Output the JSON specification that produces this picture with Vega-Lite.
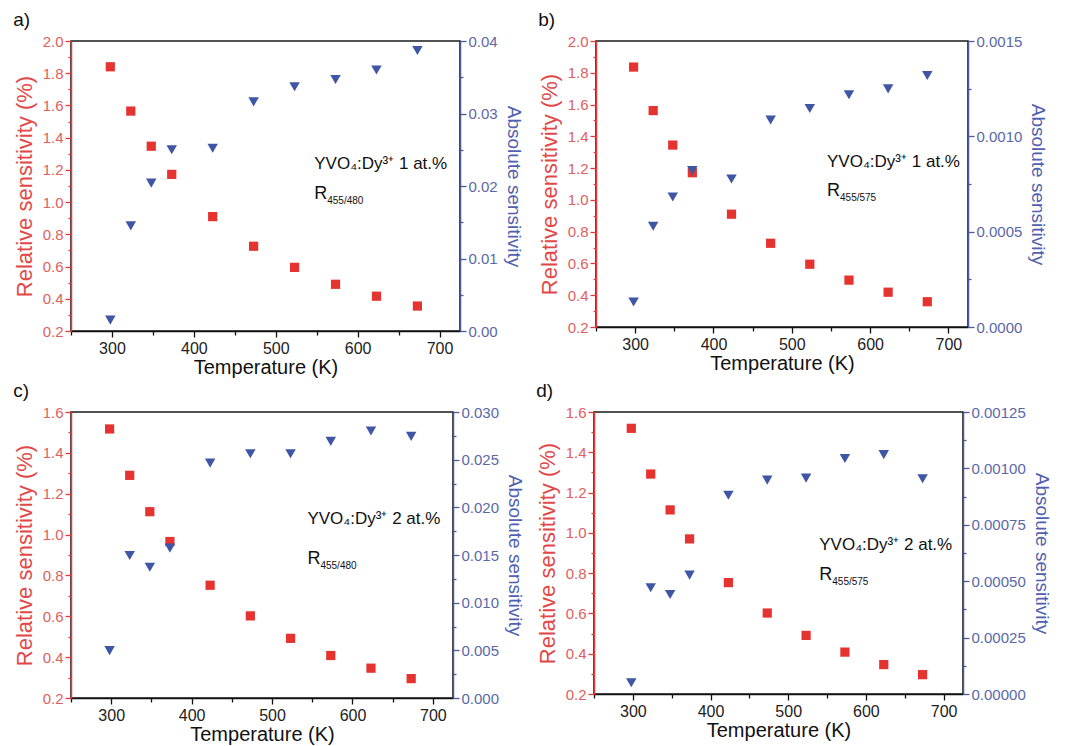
{
  "$schema": "https://vega.github.io/schema/vega-lite/v6.json",
  "padding": {"left": 12, "top": 10, "right": 2, "bottom": 2},
  "datasets": {
    "pts": [
      {"panel": "a", "T": 298, "rel": 1.84, "abs": 0.0015},
      {"panel": "a", "T": 323, "rel": 1.565, "abs": 0.0145},
      {"panel": "a", "T": 348, "rel": 1.347, "abs": 0.0204},
      {"panel": "a", "T": 373, "rel": 1.172, "abs": 0.025},
      {"panel": "a", "T": 423, "rel": 0.91, "abs": 0.0252},
      {"panel": "a", "T": 473, "rel": 0.726, "abs": 0.0316},
      {"panel": "a", "T": 523, "rel": 0.595, "abs": 0.0337},
      {"panel": "a", "T": 573, "rel": 0.49, "abs": 0.0347},
      {"panel": "a", "T": 623, "rel": 0.416, "abs": 0.036},
      {"panel": "a", "T": 673, "rel": 0.355, "abs": 0.0387},
      {"panel": "b", "T": 298, "rel": 1.836, "abs": 0.000131},
      {"panel": "b", "T": 323, "rel": 1.562, "abs": 0.000528},
      {"panel": "b", "T": 348, "rel": 1.345, "abs": 0.000682},
      {"panel": "b", "T": 373, "rel": 1.171, "abs": 0.00082},
      {"panel": "b", "T": 423, "rel": 0.91, "abs": 0.000776},
      {"panel": "b", "T": 473, "rel": 0.727, "abs": 0.001086},
      {"panel": "b", "T": 523, "rel": 0.595, "abs": 0.001146},
      {"panel": "b", "T": 573, "rel": 0.495, "abs": 0.001218},
      {"panel": "b", "T": 623, "rel": 0.419, "abs": 0.001249},
      {"panel": "b", "T": 673, "rel": 0.359, "abs": 0.001319},
      {"panel": "c", "T": 298, "rel": 1.517, "abs": 0.00497},
      {"panel": "c", "T": 323, "rel": 1.29, "abs": 0.01495},
      {"panel": "c", "T": 348, "rel": 1.112, "abs": 0.01372},
      {"panel": "c", "T": 373, "rel": 0.966, "abs": 0.01572},
      {"panel": "c", "T": 423, "rel": 0.752, "abs": 0.02464},
      {"panel": "c", "T": 473, "rel": 0.602, "abs": 0.02562},
      {"panel": "c", "T": 523, "rel": 0.492, "abs": 0.02562},
      {"panel": "c", "T": 573, "rel": 0.408, "abs": 0.02692},
      {"panel": "c", "T": 623, "rel": 0.346, "abs": 0.028},
      {"panel": "c", "T": 673, "rel": 0.295, "abs": 0.02744},
      {"panel": "d", "T": 298, "rel": 1.519, "abs": 0.0000495},
      {"panel": "d", "T": 323, "rel": 1.292, "abs": 0.000471},
      {"panel": "d", "T": 348, "rel": 1.114, "abs": 0.000441},
      {"panel": "d", "T": 373, "rel": 0.97, "abs": 0.000527},
      {"panel": "d", "T": 423, "rel": 0.753, "abs": 0.000881},
      {"panel": "d", "T": 473, "rel": 0.602, "abs": 0.000948},
      {"panel": "d", "T": 523, "rel": 0.491, "abs": 0.000957},
      {"panel": "d", "T": 573, "rel": 0.408, "abs": 0.001044},
      {"panel": "d", "T": 623, "rel": 0.346, "abs": 0.001061},
      {"panel": "d", "T": 673, "rel": 0.296, "abs": 0.000954}
    ],
    "ann": [
      {"panel": "a", "conc": "YVO₄:Dy³⁺ 1 at.%", "ratio": "455/480"},
      {"panel": "b", "conc": "YVO₄:Dy³⁺ 1 at.%", "ratio": "455/575"},
      {"panel": "c", "conc": "YVO₄:Dy³⁺ 2 at.%", "ratio": "455/480"},
      {"panel": "d", "conc": "YVO₄:Dy³⁺ 2 at.%", "ratio": "455/575"}
    ]
  },
  "data": {"name": "pts"},
  "vconcat": [
    {
      "hconcat": [
        {
          "width": 389, "height": 290,
          "title": {"text": "a)"},
          "layer": [
            {"layer": [
              {"transform": [{"filter": "datum.panel === 'a'"}],
               "mark": {"type": "square", "size": 85, "color": "#e5332f", "opacity": 1},
               "encoding": {
                 "x": {"field": "T", "type": "quantitative", "scale": {"domain": [250, 725], "nice": false, "zero": false},
                   "axis": {"title": "Temperature (K)", "values": [250, 300, 350, 400, 450, 500, 550, 600, 650, 700], "tickCount": 100,
                     "labelExpr": "datum.value % 100 === 0 ? datum.label : ''",
                     "tickSize": {"condition": {"test": "datum.value % 100 === 0", "value": 6}, "value": 4},
                     "domainColor": "#111", "tickColor": "#111", "labelColor": "#222", "titleColor": "#111",
                     "labelFontSize": 16, "titleFontSize": 20, "titlePadding": 1, "labelPadding": 3, "labelFlush": false, "labelOverlap": false}},
                 "y": {"field": "rel", "type": "quantitative", "scale": {"domain": [0.2, 2.0], "nice": false, "zero": false},
                   "axis": {"orient": "left", "title": "Relative sensitivity (%)", "tickCount": 100,
                     "values": [0.2, 0.3, 0.4, 0.5, 0.6, 0.7, 0.8, 0.9, 1.0, 1.1, 1.2, 1.3, 1.4, 1.5, 1.6, 1.7, 1.8, 1.9, 2.0],
                     "labelExpr": "round(datum.value*10) % 2 === 0 ? format(datum.value, '.1f') : ''",
                     "tickSize": {"condition": {"test": "round(datum.value*10) % 2 === 0", "value": 6}, "value": 3},
                     "domainColor": "#e23b3b", "tickColor": "#e23b3b", "labelColor": "#e06060", "titleColor": "#e24848",
                     "titleFontSize": 22, "titlePadding": 6, "labelFlush": false, "labelOverlap": false}}
               }},
              {"data": {"name": "ann"}, "transform": [{"filter": "datum.panel === 'a'"}],
               "mark": {"type": "text", "align": "left", "baseline": "middle", "fontSize": 17, "color": "#111"},
               "encoding": {"x": {"datum": 547, "type": "quantitative"}, "y": {"datum": 1.235, "type": "quantitative"}, "text": {"field": "conc"}}},
              {"data": {"name": "ann"}, "transform": [{"filter": "datum.panel === 'a'"}],
               "mark": {"type": "text", "align": "left", "baseline": "middle", "fontSize": 18, "color": "#111", "text": "R"},
               "encoding": {"x": {"datum": 547, "type": "quantitative"}, "y": {"datum": 1.05, "type": "quantitative"}}},
              {"data": {"name": "ann"}, "transform": [{"filter": "datum.panel === 'a'"}],
               "mark": {"type": "text", "align": "left", "baseline": "middle", "fontSize": 10, "color": "#111", "dx": 13, "dy": 7},
               "encoding": {"x": {"datum": 547, "type": "quantitative"}, "y": {"datum": 1.05, "type": "quantitative"}, "text": {"field": "ratio"}}}
            ]},
            {"transform": [{"filter": "datum.panel === 'a'"}],
             "mark": {"type": "point", "shape": "triangle-down", "filled": true, "size": 110, "color": "#3f56a5", "opacity": 1},
             "encoding": {
               "x": {"field": "T", "type": "quantitative"},
               "y": {"field": "abs", "type": "quantitative", "scale": {"domain": [0, 0.04], "nice": false, "zero": false},
                 "axis": {"orient": "right", "title": "Absolute sensitivity", "tickCount": 100,
                   "values": [0, 0.005, 0.01, 0.015, 0.02, 0.025, 0.03, 0.035, 0.04],
                   "labelExpr": "round(datum.value*1000) % 10 === 0 ? format(datum.value, '.2f') : ''",
                   "tickSize": {"condition": {"test": "round(datum.value*1000) % 10 === 0", "value": 6}, "value": 3},
                   "domainColor": "#4a5a9c", "tickColor": "#4a5a9c", "labelColor": "#5a68a8", "titleColor": "#5060b0",
                   "titleFontSize": 19, "titlePadding": 6, "labelFlush": false, "labelOverlap": false}}
             }}
          ],
          "resolve": {"scale": {"y": "independent"}}
        },
        {
          "width": 372, "height": 286,
          "title": {"text": "b)"},
          "layer": [
            {"layer": [
              {"transform": [{"filter": "datum.panel === 'b'"}],
               "mark": {"type": "square", "size": 85, "color": "#e5332f", "opacity": 1},
               "encoding": {
                 "x": {"field": "T", "type": "quantitative", "scale": {"domain": [250, 725], "nice": false, "zero": false},
                   "axis": {"title": "Temperature (K)", "values": [250, 300, 350, 400, 450, 500, 550, 600, 650, 700], "tickCount": 100,
                     "labelExpr": "datum.value % 100 === 0 ? datum.label : ''",
                     "tickSize": {"condition": {"test": "datum.value % 100 === 0", "value": 6}, "value": 4},
                     "domainColor": "#111", "tickColor": "#111", "labelColor": "#222", "titleColor": "#111",
                     "labelFontSize": 16, "titleFontSize": 20, "titlePadding": 1, "labelPadding": 3, "labelFlush": false, "labelOverlap": false}},
                 "y": {"field": "rel", "type": "quantitative", "scale": {"domain": [0.2, 2.0], "nice": false, "zero": false},
                   "axis": {"orient": "left", "title": "Relative sensitivity (%)", "tickCount": 100,
                     "values": [0.2, 0.3, 0.4, 0.5, 0.6, 0.7, 0.8, 0.9, 1.0, 1.1, 1.2, 1.3, 1.4, 1.5, 1.6, 1.7, 1.8, 1.9, 2.0],
                     "labelExpr": "round(datum.value*10) % 2 === 0 ? format(datum.value, '.1f') : ''",
                     "tickSize": {"condition": {"test": "round(datum.value*10) % 2 === 0", "value": 6}, "value": 3},
                     "domainColor": "#e23b3b", "tickColor": "#e23b3b", "labelColor": "#e06060", "titleColor": "#e24848",
                     "titleFontSize": 22, "titlePadding": 6, "labelFlush": false, "labelOverlap": false}}
               }},
              {"data": {"name": "ann"}, "transform": [{"filter": "datum.panel === 'b'"}],
               "mark": {"type": "text", "align": "left", "baseline": "middle", "fontSize": 17, "color": "#111"},
               "encoding": {"x": {"datum": 545, "type": "quantitative"}, "y": {"datum": 1.24, "type": "quantitative"}, "text": {"field": "conc"}}},
              {"data": {"name": "ann"}, "transform": [{"filter": "datum.panel === 'b'"}],
               "mark": {"type": "text", "align": "left", "baseline": "middle", "fontSize": 18, "color": "#111", "text": "R"},
               "encoding": {"x": {"datum": 545, "type": "quantitative"}, "y": {"datum": 1.055, "type": "quantitative"}}},
              {"data": {"name": "ann"}, "transform": [{"filter": "datum.panel === 'b'"}],
               "mark": {"type": "text", "align": "left", "baseline": "middle", "fontSize": 10, "color": "#111", "dx": 13, "dy": 7},
               "encoding": {"x": {"datum": 545, "type": "quantitative"}, "y": {"datum": 1.055, "type": "quantitative"}, "text": {"field": "ratio"}}}
            ]},
            {"transform": [{"filter": "datum.panel === 'b'"}],
             "mark": {"type": "point", "shape": "triangle-down", "filled": true, "size": 110, "color": "#3f56a5", "opacity": 1},
             "encoding": {
               "x": {"field": "T", "type": "quantitative"},
               "y": {"field": "abs", "type": "quantitative", "scale": {"domain": [0, 0.0015], "nice": false, "zero": false},
                 "axis": {"orient": "right", "title": "Absolute sensitivity", "tickCount": 100,
                   "values": [0, 0.00025, 0.0005, 0.00075, 0.001, 0.00125, 0.0015],
                   "labelExpr": "round(datum.value*100000) % 50 === 0 ? format(datum.value, '.4f') : ''",
                   "tickSize": {"condition": {"test": "round(datum.value*100000) % 50 === 0", "value": 6}, "value": 3},
                   "domainColor": "#4a5a9c", "tickColor": "#4a5a9c", "labelColor": "#5a68a8", "titleColor": "#5060b0",
                   "titleFontSize": 19, "titlePadding": 6, "labelFlush": false, "labelOverlap": false}}
             }}
          ],
          "resolve": {"scale": {"y": "independent"}}
        }
      ],
      "spacing": 14
    },
    {
      "hconcat": [
        {
          "width": 382, "height": 286,
          "title": {"text": "c)"},
          "layer": [
            {"layer": [
              {"transform": [{"filter": "datum.panel === 'c'"}],
               "mark": {"type": "square", "size": 85, "color": "#e5332f", "opacity": 1},
               "encoding": {
                 "x": {"field": "T", "type": "quantitative", "scale": {"domain": [250, 725], "nice": false, "zero": false},
                   "axis": {"title": "Temperature (K)", "values": [250, 300, 350, 400, 450, 500, 550, 600, 650, 700], "tickCount": 100,
                     "labelExpr": "datum.value % 100 === 0 ? datum.label : ''",
                     "tickSize": {"condition": {"test": "datum.value % 100 === 0", "value": 6}, "value": 4},
                     "domainColor": "#111", "tickColor": "#111", "labelColor": "#222", "titleColor": "#111",
                     "labelFontSize": 16, "titleFontSize": 20, "titlePadding": 1, "labelPadding": 3, "labelFlush": false, "labelOverlap": false}},
                 "y": {"field": "rel", "type": "quantitative", "scale": {"domain": [0.2, 1.6], "nice": false, "zero": false},
                   "axis": {"orient": "left", "title": "Relative sensitivity (%)", "tickCount": 100,
                     "values": [0.2, 0.3, 0.4, 0.5, 0.6, 0.7, 0.8, 0.9, 1.0, 1.1, 1.2, 1.3, 1.4, 1.5, 1.6],
                     "labelExpr": "round(datum.value*10) % 2 === 0 ? format(datum.value, '.1f') : ''",
                     "tickSize": {"condition": {"test": "round(datum.value*10) % 2 === 0", "value": 6}, "value": 3},
                     "domainColor": "#e23b3b", "tickColor": "#e23b3b", "labelColor": "#e06060", "titleColor": "#e24848",
                     "titleFontSize": 22, "titlePadding": 6, "labelFlush": false, "labelOverlap": false}}
               }},
              {"data": {"name": "ann"}, "transform": [{"filter": "datum.panel === 'c'"}],
               "mark": {"type": "text", "align": "left", "baseline": "middle", "fontSize": 17, "color": "#111"},
               "encoding": {"x": {"datum": 544, "type": "quantitative"}, "y": {"datum": 1.075, "type": "quantitative"}, "text": {"field": "conc"}}},
              {"data": {"name": "ann"}, "transform": [{"filter": "datum.panel === 'c'"}],
               "mark": {"type": "text", "align": "left", "baseline": "middle", "fontSize": 18, "color": "#111", "text": "R"},
               "encoding": {"x": {"datum": 544, "type": "quantitative"}, "y": {"datum": 0.88, "type": "quantitative"}}},
              {"data": {"name": "ann"}, "transform": [{"filter": "datum.panel === 'c'"}],
               "mark": {"type": "text", "align": "left", "baseline": "middle", "fontSize": 10, "color": "#111", "dx": 13, "dy": 7},
               "encoding": {"x": {"datum": 544, "type": "quantitative"}, "y": {"datum": 0.88, "type": "quantitative"}, "text": {"field": "ratio"}}}
            ]},
            {"transform": [{"filter": "datum.panel === 'c'"}],
             "mark": {"type": "point", "shape": "triangle-down", "filled": true, "size": 110, "color": "#3f56a5", "opacity": 1},
             "encoding": {
               "x": {"field": "T", "type": "quantitative"},
               "y": {"field": "abs", "type": "quantitative", "scale": {"domain": [0, 0.03], "nice": false, "zero": false},
                 "axis": {"orient": "right", "title": "Absolute sensitivity", "tickCount": 100,
                   "values": [0, 0.0025, 0.005, 0.0075, 0.01, 0.0125, 0.015, 0.0175, 0.02, 0.0225, 0.025, 0.0275, 0.03],
                   "labelExpr": "round(datum.value*10000) % 50 === 0 ? format(datum.value, '.3f') : ''",
                   "tickSize": {"condition": {"test": "round(datum.value*10000) % 50 === 0", "value": 6}, "value": 3},
                   "domainColor": "#4a5a9c", "tickColor": "#4a5a9c", "labelColor": "#5a68a8", "titleColor": "#5060b0",
                   "titleFontSize": 19, "titlePadding": 6, "labelFlush": false, "labelOverlap": false}}
             }}
          ],
          "resolve": {"scale": {"y": "independent"}}
        },
        {
          "width": 369, "height": 282,
          "title": {"text": "d)"},
          "layer": [
            {"layer": [
              {"transform": [{"filter": "datum.panel === 'd'"}],
               "mark": {"type": "square", "size": 85, "color": "#e5332f", "opacity": 1},
               "encoding": {
                 "x": {"field": "T", "type": "quantitative", "scale": {"domain": [250, 725], "nice": false, "zero": false},
                   "axis": {"title": "Temperature (K)", "values": [250, 300, 350, 400, 450, 500, 550, 600, 650, 700], "tickCount": 100,
                     "labelExpr": "datum.value % 100 === 0 ? datum.label : ''",
                     "tickSize": {"condition": {"test": "datum.value % 100 === 0", "value": 6}, "value": 4},
                     "domainColor": "#111", "tickColor": "#111", "labelColor": "#222", "titleColor": "#111",
                     "labelFontSize": 16, "titleFontSize": 20, "titlePadding": 1, "labelPadding": 3, "labelFlush": false, "labelOverlap": false}},
                 "y": {"field": "rel", "type": "quantitative", "scale": {"domain": [0.2, 1.6], "nice": false, "zero": false},
                   "axis": {"orient": "left", "title": "Relative sensitivity (%)", "tickCount": 100,
                     "values": [0.2, 0.3, 0.4, 0.5, 0.6, 0.7, 0.8, 0.9, 1.0, 1.1, 1.2, 1.3, 1.4, 1.5, 1.6],
                     "labelExpr": "round(datum.value*10) % 2 === 0 ? format(datum.value, '.1f') : ''",
                     "tickSize": {"condition": {"test": "round(datum.value*10) % 2 === 0", "value": 6}, "value": 3},
                     "domainColor": "#e23b3b", "tickColor": "#e23b3b", "labelColor": "#e06060", "titleColor": "#e24848",
                     "titleFontSize": 22, "titlePadding": 6, "labelFlush": false, "labelOverlap": false}}
               }},
              {"data": {"name": "ann"}, "transform": [{"filter": "datum.panel === 'd'"}],
               "mark": {"type": "text", "align": "left", "baseline": "middle", "fontSize": 17, "color": "#111"},
               "encoding": {"x": {"datum": 540, "type": "quantitative"}, "y": {"datum": 0.94, "type": "quantitative"}, "text": {"field": "conc"}}},
              {"data": {"name": "ann"}, "transform": [{"filter": "datum.panel === 'd'"}],
               "mark": {"type": "text", "align": "left", "baseline": "middle", "fontSize": 18, "color": "#111", "text": "R"},
               "encoding": {"x": {"datum": 540, "type": "quantitative"}, "y": {"datum": 0.79, "type": "quantitative"}}},
              {"data": {"name": "ann"}, "transform": [{"filter": "datum.panel === 'd'"}],
               "mark": {"type": "text", "align": "left", "baseline": "middle", "fontSize": 10, "color": "#111", "dx": 13, "dy": 7},
               "encoding": {"x": {"datum": 540, "type": "quantitative"}, "y": {"datum": 0.79, "type": "quantitative"}, "text": {"field": "ratio"}}}
            ]},
            {"transform": [{"filter": "datum.panel === 'd'"}],
             "mark": {"type": "point", "shape": "triangle-down", "filled": true, "size": 110, "color": "#3f56a5", "opacity": 1},
             "encoding": {
               "x": {"field": "T", "type": "quantitative"},
               "y": {"field": "abs", "type": "quantitative", "scale": {"domain": [0, 0.00125], "nice": false, "zero": false},
                 "axis": {"orient": "right", "title": "Absolute sensitivity", "tickCount": 100,
                   "values": [0, 0.000125, 0.00025, 0.000375, 0.0005, 0.000625, 0.00075, 0.000875, 0.001, 0.001125, 0.00125],
                   "labelExpr": "round(datum.value*1000000) % 250 === 0 ? format(datum.value, '.5f') : ''",
                   "tickSize": {"condition": {"test": "round(datum.value*1000000) % 250 === 0", "value": 6}, "value": 3},
                   "domainColor": "#4a5a9c", "tickColor": "#4a5a9c", "labelColor": "#5a68a8", "titleColor": "#5060b0",
                   "titleFontSize": 19, "titlePadding": 6, "labelFlush": false, "labelOverlap": false}}
             }}
          ],
          "resolve": {"scale": {"y": "independent"}}
        }
      ],
      "spacing": 10
    }
  ],
  "spacing": 3,
  "config": {
    "font": "Liberation Sans",
    "background": "white",
    "view": {"stroke": "#1a1a1a", "strokeWidth": 1.6},
    "axis": {"grid": false, "labelFont": "Liberation Sans", "titleFont": "Liberation Sans", "titleFontWeight": "normal",
      "domainWidth": 1.5, "tickWidth": 1.3, "labelFontSize": 15, "titleFontSize": 19, "labelOverlap": false},
    "title": {"fontWeight": "normal", "fontSize": 19, "anchor": "start", "frame": "bounds", "color": "#111", "font": "Liberation Sans", "offset": 4},
    "concat": {"spacing": 10}
  }
}
